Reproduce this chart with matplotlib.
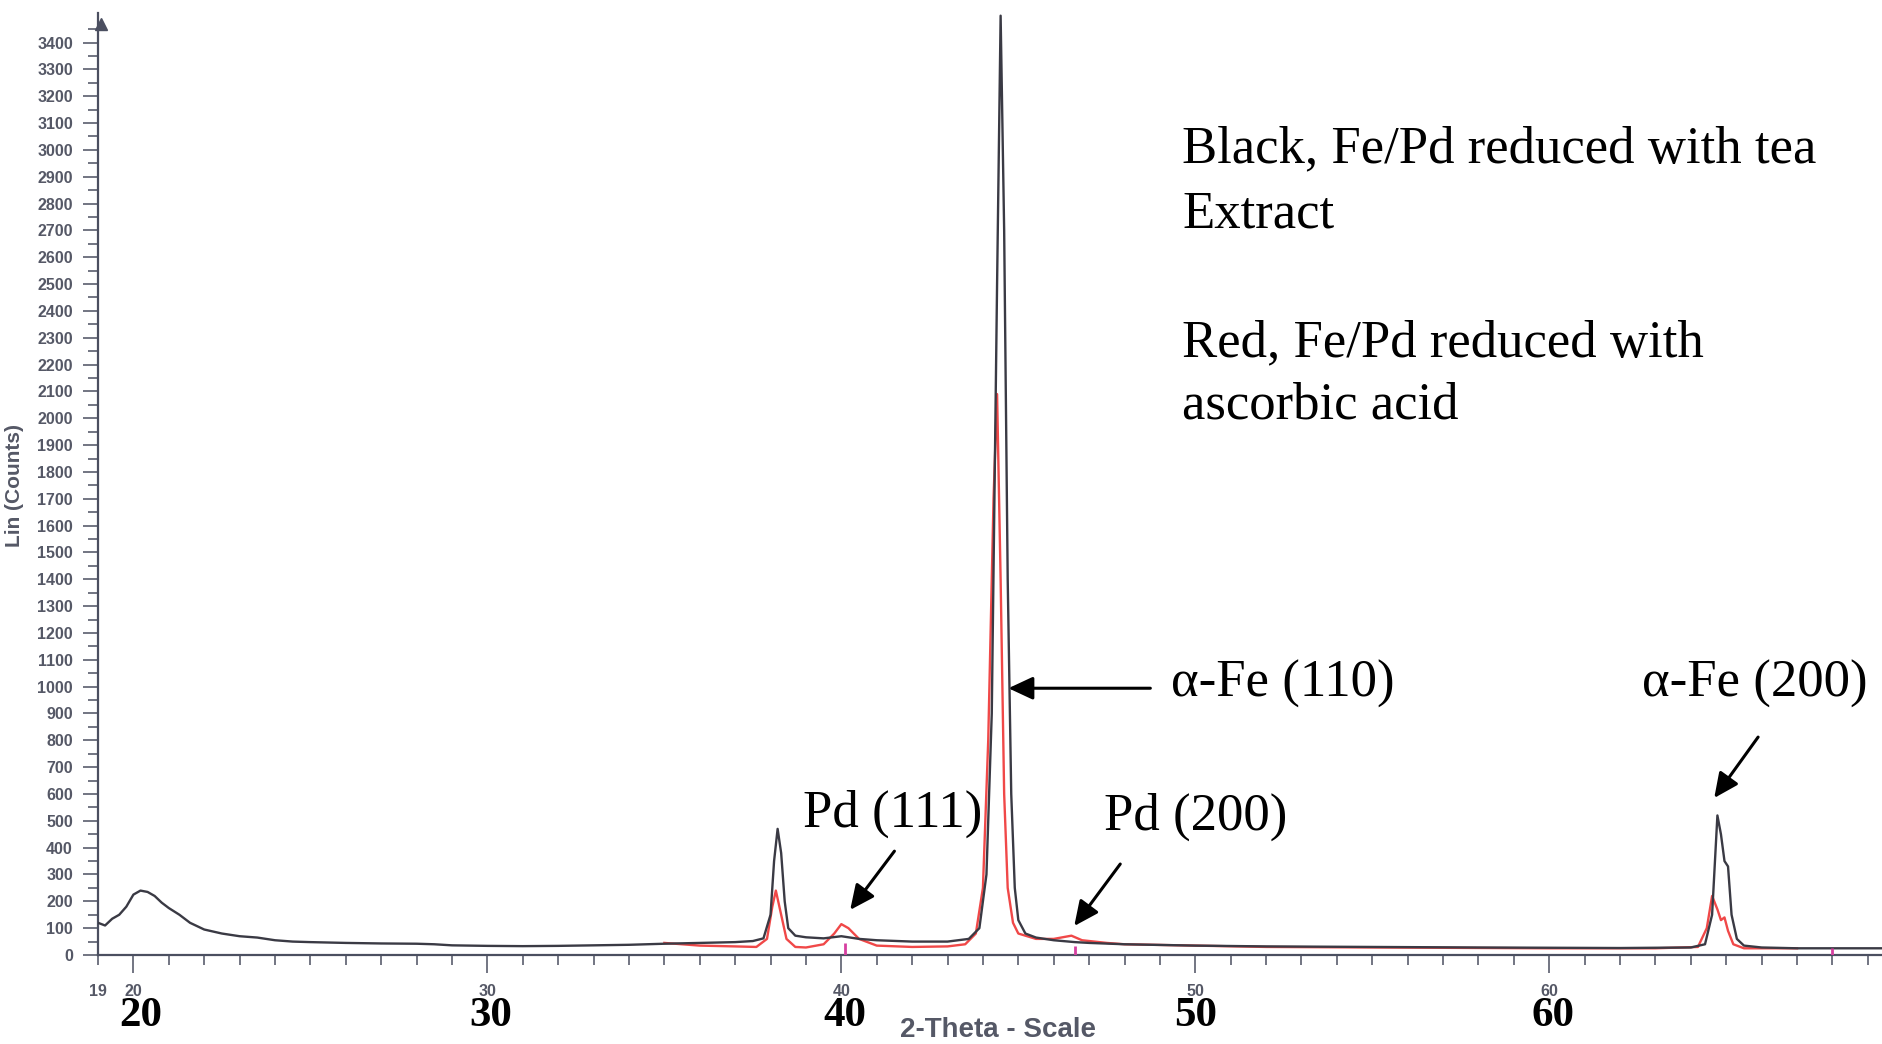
"""
plot.py - XRD patterns of Fe/Pd nanoparticles (tea extract vs ascorbic acid)
"""
import matplotlib
matplotlib.use("Agg")
import matplotlib.pyplot as plt
import matplotlib.transforms as mtransforms

# ── Data (2-theta in degrees, counts) ────────────────────────────────────────
black_2theta = [19.0, 19.2, 19.4, 19.6, 19.8, 20.0, 20.2, 20.4, 20.6, 20.8,
                21.0, 21.3, 21.6, 22.0, 22.5, 23.0, 23.5, 24.0, 24.5, 25.0,
                26.0, 27.0, 28.0, 28.5, 29.0, 30.0, 31.0, 32.0, 33.0, 34.0,
                35.0, 36.0, 37.0, 37.5, 37.8, 38.0, 38.1, 38.2, 38.3, 38.4,
                38.5, 38.7, 39.0, 39.5, 40.0, 40.5, 41.0, 42.0, 43.0, 43.6,
                43.9, 44.1, 44.25, 44.4, 44.5, 44.6, 44.7, 44.8, 44.9, 45.0,
                45.2, 45.5, 46.0, 46.6, 47.0, 48.0, 50.0, 52.0, 55.0, 58.0,
                60.0, 62.0, 64.0, 64.4, 64.6, 64.75, 64.85, 64.95, 65.05, 65.15,
                65.3, 65.5, 66.0, 67.0, 68.0, 69.4]
black_counts = [120, 110, 135, 150, 180, 225, 240, 235, 220, 195,
                175, 150, 120, 95, 80, 70, 65, 55, 50, 48,
                45, 43, 42, 40, 36, 34, 33, 34, 36, 38,
                42, 45, 48, 52, 62, 150, 350, 470, 380, 200,
                100, 72, 66, 62, 70, 60, 55, 50, 50, 60,
                100, 300, 900, 2500, 3500, 2700, 1400, 600, 250, 130,
                80, 65, 55, 48, 45, 40, 35, 32, 30, 28,
                27, 26, 28, 40, 150, 520, 450, 350, 330, 150,
                60, 35, 28, 25, 25, 25]

red_2theta = [35.0, 35.5, 36.0, 37.0, 37.6, 37.9, 38.05, 38.15, 38.3, 38.45,
              38.7, 39.0, 39.5, 39.8, 40.0, 40.2, 40.5, 41.0, 42.0, 43.0,
              43.5, 43.8, 44.0, 44.15, 44.3, 44.4, 44.5, 44.6, 44.7, 44.85,
              45.0, 45.5, 46.0, 46.5, 46.8, 47.5, 48.0, 50.0, 52.0, 55.0,
              60.0, 63.0, 64.2, 64.45, 64.6, 64.75, 64.85, 64.95, 65.05, 65.2,
              65.5, 66.0, 67.0]
red_counts = [45, 40, 35, 32, 30, 60, 180, 240, 150, 60,
              30, 28, 40, 80, 115, 100, 60, 35, 30, 32,
              40, 80, 250, 800, 1700, 2090, 1400, 600, 250, 120,
              80, 60, 60, 72, 55, 45, 40, 35, 30, 28,
              25, 25, 30, 100, 220, 170, 130, 140, 90, 40,
              25, 25, 25]

# reference markers (pink sticks on the baseline)
ref_2theta = [40.1, 46.6, 68.0]
ref_height = [45, 35, 25]

# peak labels: text, text anchor (x, y), arrow tail, arrow tip
peak_labels = ["α-Fe (110)", "α-Fe (200)", "Pd (111)", "Pd (200)"]
label_xy = [(49.32, 1009), (62.63, 1009), (38.93, 525), (47.43, 514)]
arrow_tail = [(48.73, 994), (65.90, 812), (41.50, 387), (47.88, 339)]
arrow_tip = [(44.72, 994), (64.66, 585), (40.25, 168), (46.58, 108)]

# sample description lines (baseline pixel row from the top)
legend_lines = ["Black, Fe/Pd reduced with tea", "Extract",
                "Red, Fe/Pd reduced with", "ascorbic acid"]
legend_rows = [162, 227, 356, 419]

small_xticks = [19, 20, 30, 40, 50, 60]
big_xticks = [20, 30, 40, 50, 60]
big_xpos = [20.2, 30.1, 40.1, 50.0, 60.1]

axis_col = "#4b4f60"
label_col = "#555866"

fig = plt.figure(figsize=(18.82, 10.44), dpi=100)
ax = fig.add_axes([98 / 1882, 89 / 1044, 1 - 98 / 1882, 942 / 1044])

ax.plot(red_2theta, red_counts, color="#f04848", lw=1.7, zorder=2)
ax.plot(black_2theta, black_counts, color="#3a3a44", lw=1.7, zorder=3)
ax.vlines(ref_2theta, 0, ref_height, color="#d63fa0", lw=2, zorder=4)

ax.set_xlim(19, 69.4)
ax.set_ylim(0, 3510)

# ── axes styling ─────────────────────────────────────────────────────────────
for s in ("top", "right"):
    ax.spines[s].set_visible(False)
for s in ("left", "bottom"):
    ax.spines[s].set_color(axis_col)
    ax.spines[s].set_linewidth(1.6)

ax.set_yticks(range(0, 3401, 100))
ax.set_yticks(range(50, 3451, 100), minor=True)
ax.tick_params(axis="y", which="major", length=11, width=1.1, color=axis_col,
               pad=7, labelsize=11.5, labelcolor=label_col)
ax.tick_params(axis="y", which="minor", length=7, width=1.1, color=axis_col)
for t in ax.get_yticklabels():
    t.set_fontfamily("Liberation Sans")
    t.set_fontweight("bold")

ax.set_xticks(big_xticks)
ax.set_xticks([v for v in range(19, 70) if v % 10 != 0], minor=True)
ax.tick_params(axis="x", which="major", length=13, width=1.1, color=axis_col,
               labelbottom=False)
ax.tick_params(axis="x", which="minor", length=7, width=1.1, color=axis_col)

# y axis arrow head
ax.plot([19.08], [3470], marker="^", ms=9, color=axis_col, clip_on=False,
        zorder=5)

trans = mtransforms.blended_transform_factory(ax.transData, fig.transFigure)
for v in small_xticks:
    ax.text(v, (1044 - 991) / 1044, str(v), transform=trans, ha="center",
            va="center", fontsize=11.5, color=label_col,
            family="Liberation Sans", fontweight="bold")
for v, xp in zip(big_xticks, big_xpos):
    ax.text(xp, (1044 - 1016) / 1044, str(v), transform=trans, ha="center",
            va="center", fontsize=31, fontweight="bold",
            family="Liberation Serif", color="black")

fig.text(998 / 1882, (1044 - 1030) / 1044, "2-Theta - Scale", ha="center",
         va="center", fontsize=20, fontweight="bold", color=label_col,
         family="Liberation Sans")
fig.text(24 / 1882, 0.535, "Lin (Counts)", rotation=90, ha="right",
         va="center", fontsize=15, fontweight="bold", color=label_col,
         family="Liberation Sans")

# ── annotations ──────────────────────────────────────────────────────────────
for txt, xy in zip(peak_labels, label_xy):
    ax.text(xy[0], xy[1], txt, ha="left", va="center", fontsize=38,
            family="Liberation Serif", color="black", zorder=6)
for tail, tip in zip(arrow_tail, arrow_tip):
    ax.annotate("", xy=tip, xytext=tail,
                arrowprops=dict(arrowstyle="-|>,head_length=0.6,head_width=0.28",
                                mutation_scale=25, lw=2.2, color="black",
                                shrinkA=0, shrinkB=0))

for line, row in zip(legend_lines, legend_rows):
    fig.text(1182 / 1882, (1044 - row) / 1044, line, ha="left",
             va="baseline", fontsize=38, family="Liberation Serif")

plt.savefig("out.png", dpi=100)
plt.close()
